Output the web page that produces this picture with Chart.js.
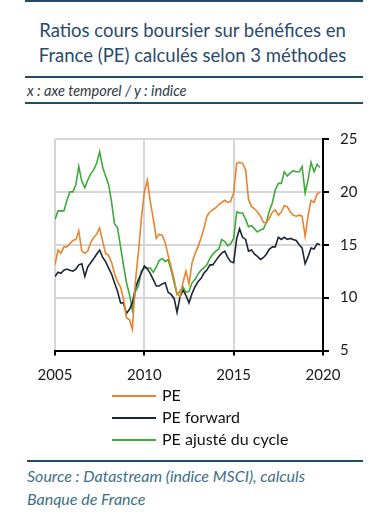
<!DOCTYPE html>
<html>
<head>
<meta charset="utf-8">
<script src="https://cdn.jsdelivr.net/npm/chart.js@4"></script>
<style>
  html, body { margin: 0; padding: 0; background: #fff; }
  body { width: 385px; height: 515px; position: relative; overflow: hidden; font-family: Lato, "Open Sans", sans-serif; }
  .rule { position: absolute; left: 25px; width: 338px; height: 2px; background: #1f4c66; }
  .title { position: absolute; left: 0; width: 385px; top: 18px; text-align: center; font-size: 18.5px; line-height: 25px; color: #2a4a6c; }
  .sub { position: absolute; left: 27px; top: 82px; font-size: 14.5px; font-style: italic; color: #2f3a45; }
  .src { position: absolute; left: 27px; top: 464px; font-size: 16px; font-style: italic; color: #3d6f86; line-height: 23px; }
  #wrap { position: absolute; left: 0; top: 119px; width: 385px; height: 271px; }
  .leg { position: absolute; left: 112px; font-size: 16px; color: #111; height: 20px; line-height: 20px; }
  .leg span.sw { position: absolute; left: 0; top: 10px; width: 44px; height: 2px; }
  .leg span.tx { position: absolute; left: 50px; white-space: nowrap; }
</style>
</head>
<body>
<div class="rule" style="top:0px"></div>
<div class="title">Ratios cours boursier sur bénéfices en<br>France (PE) calculés selon 3 méthodes</div>
<div class="rule" style="top:76px"></div>
<div class="sub">x : axe temporel / y : indice</div>
<div class="rule" style="top:102px"></div>
<div id="wrap"><canvas id="c" width="385" height="271"></canvas></div>
<div class="leg" style="top:385px"><span class="sw" style="background:#e8842e"></span><span class="tx">PE</span></div>
<div class="leg" style="top:407px"><span class="sw" style="background:#1c2535"></span><span class="tx">PE forward</span></div>
<div class="leg" style="top:429px"><span class="sw" style="background:#3daa3a"></span><span class="tx">PE ajusté du cycle</span></div>
<div class="rule" style="top:460px; left:27px; width:336px"></div>
<div class="src">Source : Datastream (indice MSCI), calculs<br>Banque de France</div>
<script>
const dates = [
  2005.00,2005.17,2005.33,2005.50,2005.67,2005.83,
  2006.00,2006.17,2006.33,2006.50,2006.67,2006.83,
  2007.00,2007.17,2007.33,2007.50,2007.67,2007.83,
  2008.00,2008.17,2008.33,2008.50,2008.67,2008.83,
  2009.00,2009.17,2009.33,2009.50,2009.67,2009.83,
  2010.00,2010.17,2010.33,2010.50,2010.67,2010.83,
  2011.00,2011.17,2011.33,2011.50,2011.67,2011.83,
  2012.00,2012.17,2012.33,2012.50,2012.67,2012.83,
  2013.00,2013.17,2013.33,2013.50,2013.67,2013.83,
  2014.00,2014.17,2014.33,2014.50,2014.67,2014.83,
  2015.00,2015.17,2015.33,2015.50,2015.67,2015.83,
  2016.00,2016.17,2016.33,2016.50,2016.67,2016.83,
  2017.00,2017.17,2017.33,2017.50,2017.67,2017.83,
  2018.00,2018.17,2018.33,2018.50,2018.67,2018.83,
  2019.00,2019.17,2019.33,2019.50,2019.67,2019.83];
const pe = [
  13.1,14.5,14.2,14.8,14.8,15.1,
  15.4,15.5,16.3,14.4,14.2,14.4,
  15.2,15.7,16.0,16.6,15.3,14.2,
  14.0,13.3,12.3,11.5,11.0,9.9,
  8.1,7.9,7.0,11.5,14.3,17.4,
  20.0,21.1,19.1,17.5,15.6,16.0,
  15.9,15.2,14.0,12.9,11.7,10.4,
  10.1,11.5,12.5,11.3,13.3,14.1,
  14.8,15.6,16.5,17.7,18.1,18.3,
  18.5,18.8,19.0,19.2,19.0,19.1,
  19.9,22.7,22.8,22.7,22.1,19.3,
  18.6,18.4,18.1,17.7,17.1,17.1,
  17.5,18.1,18.3,17.8,18.1,18.7,
  18.6,18.1,17.8,17.7,17.8,17.7,
  15.8,17.8,19.2,19.0,19.8,20.0];
const peForward = [
  12.0,12.4,12.3,12.6,12.7,12.6,
  12.5,12.7,13.1,13.2,12.0,12.9,
  13.3,13.7,14.1,14.5,13.8,13.4,
  12.8,12.2,11.4,10.6,9.5,9.5,
  8.5,8.9,9.5,10.9,11.7,12.3,
  13.0,12.7,12.3,11.7,11.1,11.1,
  11.3,11.4,10.5,10.3,9.9,8.6,
  10.1,10.7,10.2,9.5,10.4,11.0,
  11.5,11.8,12.3,12.6,13.1,13.1,
  13.5,13.9,14.2,14.4,13.8,13.4,
  13.3,15.6,16.5,15.7,15.5,14.4,
  14.5,14.1,13.9,13.6,13.8,14.1,
  14.6,14.8,14.8,15.7,15.5,15.7,
  15.5,15.6,15.5,15.4,15.0,14.7,
  13.2,13.9,14.7,14.6,15.1,15.0];
const peCycle = [
  17.4,18.2,18.2,18.2,19.2,20.0,
  20.0,20.7,22.4,21.0,20.4,21.1,
  21.7,22.1,22.7,23.8,22.3,21.5,
  20.7,19.0,17.0,16.6,14.8,13.1,
  11.4,10.3,8.8,10.6,11.1,12.5,
  12.8,12.8,12.8,12.4,12.9,13.5,
  13.7,13.4,13.6,12.6,11.4,10.3,
  10.6,11.0,10.5,10.6,11.4,11.7,
  12.2,12.6,12.8,13.1,13.7,14.1,
  14.4,14.6,15.5,15.3,14.9,15.1,
  15.6,18.1,18.0,18.0,17.4,16.7,
  16.8,16.5,16.2,16.4,16.5,17.1,
  18.2,19.0,20.2,20.8,20.8,21.9,
  21.5,21.8,22.0,21.9,21.9,22.4,
  19.9,21.2,22.8,21.9,22.6,22.3];
const xTicks = [2005, 2010, 2015, 2020];
const yTicks = [5, 10, 15, 20, 25];

const toPts = vals => vals.map((v, i) => ({x: dates[i], y: v}));
const font = {family: 'Lato, "Open Sans", sans-serif', size: 15};

new Chart(document.getElementById('c'), {
  type: 'line',
  data: {
    datasets: [
      {label: 'PE', data: toPts(pe), borderColor: '#e8842e', borderWidth: 1.6, pointRadius: 0, tension: 0},
      {label: 'PE forward', data: toPts(peForward), borderColor: '#1c2535', borderWidth: 1.6, pointRadius: 0, tension: 0},
      {label: 'PE ajusté du cycle', data: toPts(peCycle), borderColor: '#3daa3a', borderWidth: 1.6, pointRadius: 0, tension: 0}
    ]
  },
  options: {
    responsive: false,
    animation: false,
    layout: {padding: {left: 55, top: 8, right: 0, bottom: 0}},
    plugins: {legend: {display: false}, tooltip: {enabled: false}},
    scales: {
      x: {
        type: 'linear', min: 2005, max: 2020,
        afterBuildTicks: s => { s.ticks = xTicks.map(v => ({value: v})); },
        afterFit: s => { s.height = 39.5; },
        ticks: {font: font, color: '#1a1a1a', padding: 11, maxRotation: 0, callback: v => String(v)},
        grid: {color: '#d6d6d6', lineWidth: 2, tickColor: '#000', tickLength: 5, tickWidth: 2},
        border: {color: '#000', width: 2}
      },
      y: {
        position: 'right', min: 5, max: 25,
        afterBuildTicks: s => { s.ticks = yTicks.map(v => ({value: v})); },
        afterFit: s => { s.width = 62; },
        ticks: {font: font, color: '#1a1a1a', padding: 11},
        grid: {color: '#d6d6d6', lineWidth: 2, tickColor: '#000', tickLength: 6, tickWidth: 2},
        border: {color: '#000', width: 2}
      }
    }
  }
});
</script>
</body>
</html>
